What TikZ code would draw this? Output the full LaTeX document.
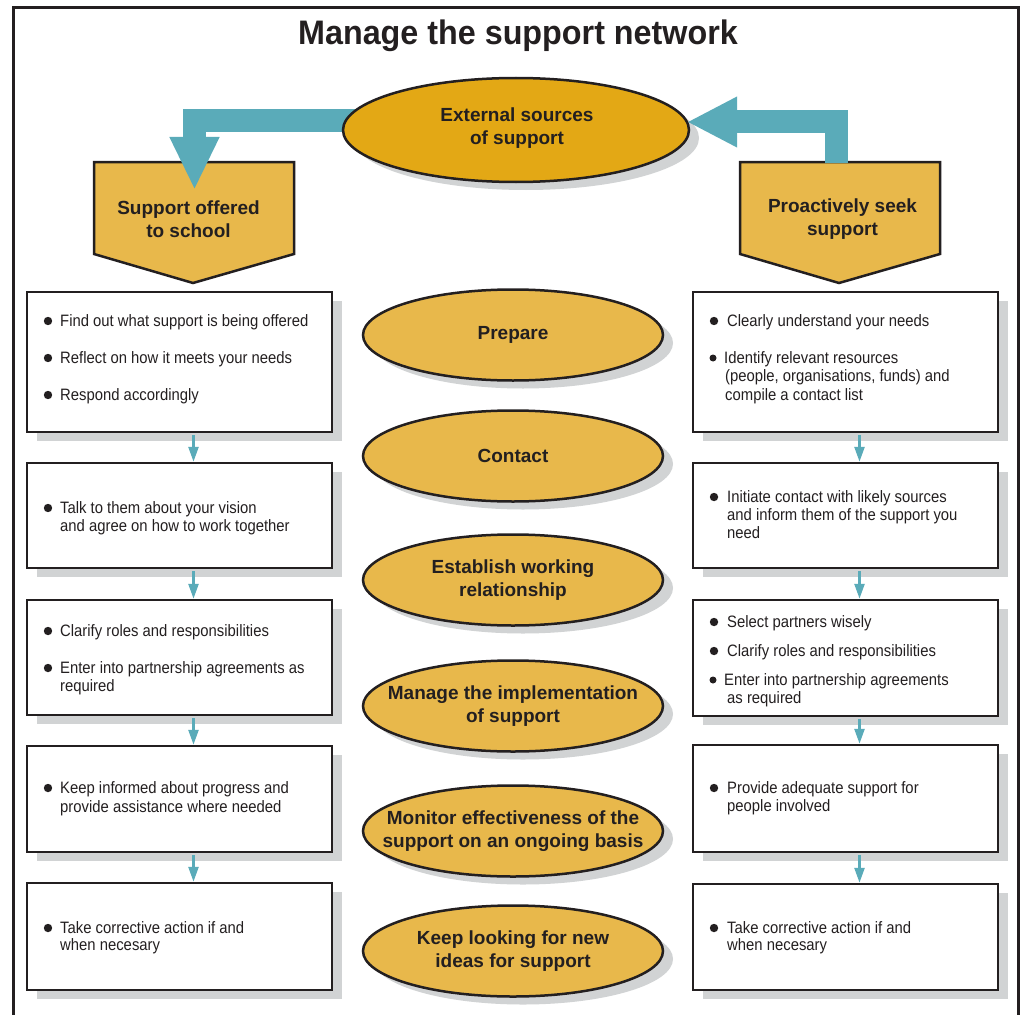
\documentclass[tikz,border=0pt]{standalone}
\usepackage{fontspec}
\setmainfont{Liberation Sans}
\newfontfamily\bodyfont[FakeStretch=0.9]{Liberation Sans}
\newfontfamily\titlefont[FakeStretch=0.95]{Liberation Sans}
\usetikzlibrary{shapes.geometric,shadows,arrows.meta,calc}
\definecolor{ink}{HTML}{231F20}
\definecolor{gold}{HTML}{E8B84B}
\definecolor{golddk}{HTML}{E3A815}
\definecolor{tealc}{HTML}{5AABB9}
\definecolor{shd}{HTML}{D1D3D4}
\newcommand\tline[4]{\node[itm] (#1) at (#2,#3) {#4};}
\newcommand\bdot[2]{\fill[ink] (#1,#2) circle[radius=4.2pt];}
\newcommand\sdot[2]{\fill[ink] (#1,#2) circle[radius=3.5pt];}
\begin{document}
\begin{tikzpicture}[x=1pt,y=-1pt,
 frame/.style={draw=ink, line width=3pt},
 box/.style={rectangle, draw=ink, line width=2.5pt, fill=white, minimum width=305pt, inner sep=0pt,
   drop shadow={shadow xshift=10pt, shadow yshift=-9pt, fill=shd, opacity=1}},
 oval/.style={ellipse, draw=ink, line width=2.5pt, fill=gold, minimum width=300pt, minimum height=91pt, inner sep=0pt,
   drop shadow={shadow xshift=10pt, shadow yshift=-8pt, fill=shd, opacity=1}},
 head/.style={font=\fontsize{19}{23}\selectfont\bfseries, text=ink, align=center, inner sep=0pt},
 itm/.style={font=\bodyfont\fontsize{16.5}{18.5}\selectfont, text=ink, anchor=base west, inner sep=0pt},
 flow/.style={draw=tealc, line width=2.5pt, shorten <=2pt, -{Triangle[width=10pt,length=15pt]}},
 big/.style={draw=tealc, line width=23pt, line join=miter},
 pent/.style={draw=ink, line width=2.5pt, fill=gold, line join=miter},
]
\useasboundingbox (0,0) rectangle (1022,1014);
\fill[white] (0,0) rectangle (1022,1014);
\draw[frame] (13,1030) -- (13,8) -- (1018,8) -- (1018,1030);

\node[font=\titlefont\fontsize{34}{40}\selectfont\bfseries, text=ink, anchor=base, inner sep=0pt] (title) at (518,45) {Manage the support network};

% pentagons
\draw[pent] (94,162) -- (294,162) -- (294,254) -- (193,283) -- (94,254) -- cycle;
\draw[pent] (740,162) -- (940,162) -- (940,254) -- (839,283) -- (740,254) -- cycle;
\node[head] (sos) at (188.5,219) {Support offered\\to school};
\node[head] (pss) at (842.5,219) {Proactively seek\\support};

% left big arrow
\coordinate (la) at (380,120.5);
\coordinate (lt) at (194.5,190);
\draw[big, -{Triangle[width=46pt,length=53pt]}] (la) -| (lt);

% external ellipse
\node[oval, fill=golddk, minimum width=346pt, minimum height=104pt] (ext) at (516,130) {};
\node[head] (extt) at (517,128) {External sources\\of support};

% right big arrow
\coordinate (rs) at (836.5,163.3);
\coordinate (rt) at (687,122);
\draw[big, -{Triangle[width=47pt,length=50pt]}] (rs) |- (rt);

% boxes
\node[box, minimum height=140pt] (l1) at (179.5,362) {};
\node[box, minimum height=105pt] (l2) at (179.5,515.5) {};
\node[box, minimum height=115pt] (l3) at (179.5,657.5) {};
\node[box, minimum height=106pt] (l4) at (179.5,799) {};
\node[box, minimum height=107pt] (l5) at (179.5,936.5) {};
\node[box, minimum height=140pt] (r1) at (845.5,362) {};
\node[box, minimum height=105pt] (r2) at (845.5,515.5) {};
\node[box, minimum height=116pt] (r3) at (845.5,658) {};
\node[box, minimum height=107pt] (r4) at (845.5,798.5) {};
\node[box, minimum height=106pt] (r5) at (845.5,937) {};

% flows
\draw[flow] ([xshift=14pt]l1.south) -- ([xshift=14pt]l2.north);
\draw[flow] ([xshift=14pt]l2.south) -- ([xshift=14pt]l3.north);
\draw[flow] ([xshift=14pt]l3.south) -- ([xshift=14pt]l4.north);
\draw[flow] ([xshift=14pt]l4.south) -- ([xshift=14pt]l5.north);
\draw[flow] ([xshift=14pt]r1.south) -- ([xshift=14pt]r2.north);
\draw[flow] ([xshift=14pt]r2.south) -- ([xshift=14pt]r3.north);
\draw[flow] ([xshift=14pt]r3.south) -- ([xshift=14pt]r4.north);
\draw[flow] ([xshift=14pt]r4.south) -- ([xshift=14pt]r5.north);

% middle ellipses
\node[oval] (e1) at (513,335) {};
\node[oval] (e2) at (513,456) {};
\node[oval] (e3) at (513,580) {};
\node[oval] (e4) at (513,706) {};
\node[oval] (e5) at (513,831) {};
\node[oval] (e6) at (513,951) {};
\node[head] (e1t) at (e1) {Prepare};
\node[head] (e2t) at (e2) {Contact};
\node[head] (e3t) at (e3) {Establish working\\relationship};
\node[head] (e4t) at (e4) {Manage the implementation\\of support};
\node[head] (e5t) at (e5) {Monitor effectiveness of the\\support on an ongoing basis};
\node[head] (e6t) at (e6) {Keep looking for new\\ideas for support};

% left texts
\bdot{48}{321}\tline{a1}{60}{326}{Find out what support is being offered}
\bdot{48}{358}\tline{a2}{60}{363}{Reflect on how it meets your needs}
\bdot{48}{395}\tline{a3}{60}{400}{Respond accordingly}
\bdot{48}{508}\tline{b1}{60}{513}{Talk to them about your vision}
\tline{b2}{60}{531}{and agree on how to work together}
\bdot{48}{631}\tline{c1}{60}{636}{Clarify roles and responsibilities}
\bdot{48}{668}\tline{c2}{60}{673}{Enter into partnership agreements as}
\tline{c3}{60}{691}{required}
\bdot{48}{788}\tline{d1}{60}{793}{Keep informed about progress and}
\tline{d2}{60}{812}{provide assistance where needed}
\bdot{48}{928}\tline{f1}{60}{933}{Take corrective action if and}
\tline{f2}{60}{950}{when necesary}

% right texts
\bdot{714}{321}\tline{g1}{727}{326}{Clearly understand your needs}
\sdot{713}{358}\tline{g2}{724}{363}{Identify relevant resources}
\tline{g3}{725}{381}{(people, organisations, funds) and}
\tline{g4}{725}{400}{compile a contact list}
\bdot{714}{497}\tline{h1}{727}{502}{Initiate contact with likely sources}
\tline{h2}{727}{520}{and inform them of the support you}
\tline{h3}{727}{538}{need}
\bdot{714}{622}\tline{i1}{727}{627}{Select partners wisely}
\bdot{714}{651}\tline{i2}{727}{656}{Clarify roles and responsibilities}
\sdot{713}{680}\tline{i3}{724}{685}{Enter into partnership agreements}
\tline{i4}{727}{703}{as required}
\bdot{714}{788}\tline{j1}{727}{793}{Provide adequate support for}
\tline{j2}{727}{811}{people involved}
\bdot{714}{928}\tline{k1}{727}{933}{Take corrective action if and}
\tline{k2}{727}{950}{when necesary}
\end{tikzpicture}
\end{document}
